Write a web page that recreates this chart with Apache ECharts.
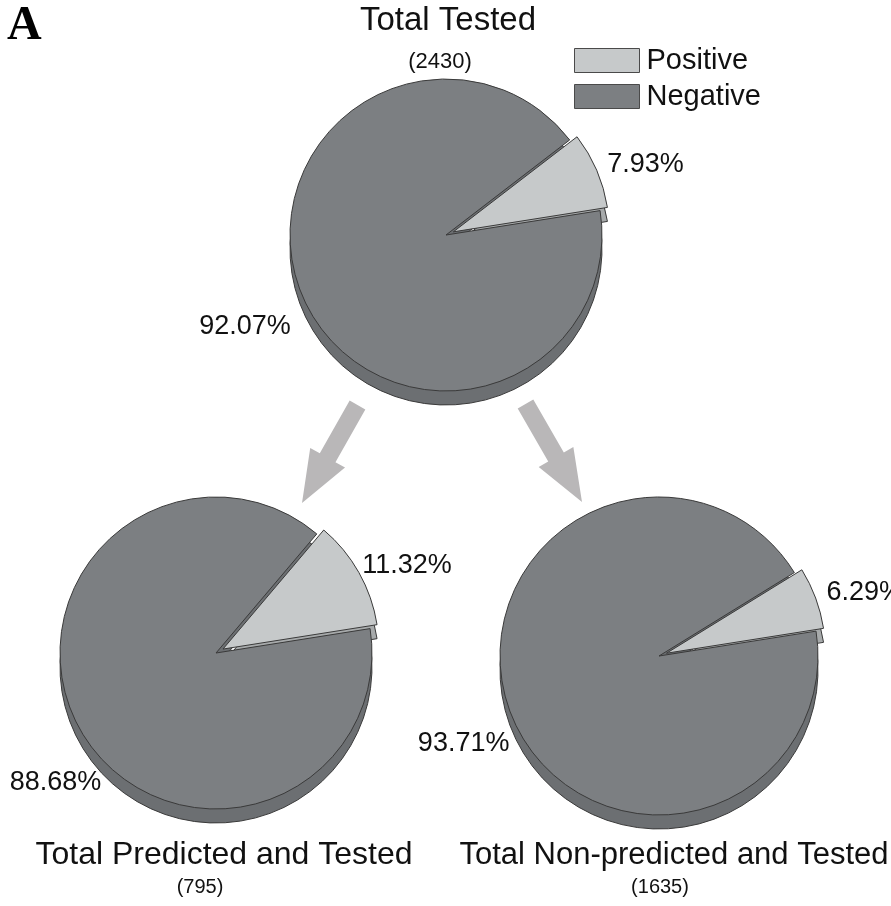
<!DOCTYPE html>
<html>
<head>
<meta charset="utf-8">
<script src="https://cdn.jsdelivr.net/npm/echarts@6/dist/echarts.min.js"></script>
<style>
  html, body { margin: 0; padding: 0; background: #ffffff; }
  #chart { width: 891px; height: 906px; }
</style>
</head>
<body>
<div id="chart"></div>
<script>
// Outcome categories and the share (%) of each in the three groups
const categories = ['Positive', 'Negative'];
const totalTested = [7.93, 92.07];
const predictedTested = [11.32, 88.68];
const nonPredictedTested = [6.29, 93.71];

// Group captions and sample sizes
const groupNames = ['Total Tested', 'Total Predicted and Tested', 'Total Non-predicted and Tested'];
const groupCounts = [2430, 795, 1635];

const FONT = '"Liberation Sans", Arial, sans-serif';
const faceColors = ['#c6c9ca', '#7c7f82'];
const sideColors = ['#a7aaab', '#6c6f72'];
const edgeColor = '#3a3a3a';
const DEPTH = 14;          // thickness of the pie disc
const EXPLODE = 8;         // offset of the pulled-out slice
const SLICE_END = 9;       // angle (deg) where the positive slice ends

// Layout of each pie: centre, radius, caption placement and label polar offsets [deg, px]
const pies = [
  { values: totalTested, center: [446, 235], r: 156,
    caption: [448, 21], captionSize: 33, count: [440, 62], countSize: 22,
    labels: [[21, 223], [204.6, 221]] },
  { values: predictedTested, center: [216, 653], r: 156,
    caption: [224, 855], captionSize: 32, count: [200, 887], countSize: 20,
    labels: [[28.4, 210], [219, 206.5]] },
  { values: nonPredictedTested, center: [659, 656], r: 159,
    caption: [674, 855], captionSize: 31, count: [660, 887], countSize: 20,
    labels: [[21.8, 210], [204.1, 214]] }
];

function pieData(values, colors) {
  return categories.map((name, i) => ({
    name: name,
    value: values[i],
    selected: i === 0,
    itemStyle: { color: colors[i] }
  }));
}

const series = [];
pies.forEach((p) => {
  const startAngle = SLICE_END + p.values[0] * 3.6;
  const common = {
    type: 'pie',
    radius: p.r,
    startAngle: startAngle,
    clockwise: true,
    selectedMode: 'multiple',
    selectedOffset: EXPLODE,
    avoidLabelOverlap: false,
    silent: true,
    animation: false,
    emphasis: { disabled: true },
    labelLine: { show: false }
  };
  // disc side, drawn underneath
  series.push(Object.assign({}, common, {
    name: 'side',
    center: [p.center[0], p.center[1] + DEPTH],
    z: 1,
    itemStyle: { borderColor: edgeColor, borderWidth: 1 },
    label: { show: false },
    data: pieData(p.values, sideColors)
  }));
  // top face with value labels
  series.push(Object.assign({}, common, {
    name: 'face',
    center: p.center,
    z: 2,
    itemStyle: { borderColor: edgeColor, borderWidth: 1 },
    label: {
      show: true,
      position: 'outside',
      formatter: '{c}%',
      fontFamily: FONT,
      fontSize: 27,
      color: '#111111'
    },
    labelLayout: function (params) {
      const lp = p.labels[params.dataIndex];
      const a = lp[0] * Math.PI / 180;
      return {
        x: p.center[0] + lp[1] * Math.cos(a),
        y: p.center[1] - lp[1] * Math.sin(a),
        align: 'center',
        verticalAlign: 'middle'
      };
    },
    data: pieData(p.values, faceColors)
  }));
});

// Broad grey arrows from the overall pie to the two subgroups
function arrowPoints(x0, y0, x1, y1, shaftW, headW, headL) {
  const dx = x1 - x0, dy = y1 - y0, L = Math.hypot(dx, dy);
  const ux = dx / L, uy = dy / L, nx = -uy, ny = ux;
  const bx = x1 - ux * headL, by = y1 - uy * headL;
  return [
    [x0 + nx * shaftW / 2, y0 + ny * shaftW / 2],
    [bx + nx * shaftW / 2, by + ny * shaftW / 2],
    [bx + nx * headW / 2, by + ny * headW / 2],
    [x1, y1],
    [bx - nx * headW / 2, by - ny * headW / 2],
    [bx - nx * shaftW / 2, by - ny * shaftW / 2],
    [x0 - nx * shaftW / 2, y0 - ny * shaftW / 2]
  ];
}

const graphics = [
  { type: 'polygon', shape: { points: arrowPoints(357.5, 405, 302, 503, 18, 40, 52) },
    style: { fill: '#b9b7b8' }, z: 0, silent: true },
  { type: 'polygon', shape: { points: arrowPoints(525.5, 404, 582, 502, 18, 40, 52) },
    style: { fill: '#b9b7b8' }, z: 0, silent: true },
  { type: 'text', x: 7, y: 3, silent: true,
    style: { text: 'A', font: 'bold 48px "Liberation Serif", "Times New Roman", serif', fill: '#000' } }
];
pies.forEach((p, i) => {
  graphics.push({
    type: 'text', x: p.caption[0], y: p.caption[1], silent: true,
    style: { text: groupNames[i], align: 'center', verticalAlign: 'middle',
             font: p.captionSize + 'px ' + FONT, fill: '#111111' }
  });
  graphics.push({
    type: 'text', x: p.count[0], y: p.count[1], silent: true,
    style: { text: '(' + groupCounts[i] + ')', align: 'center', verticalAlign: 'middle',
             font: p.countSize + 'px ' + FONT, fill: '#111111' }
  });
});

const chart = echarts.init(document.getElementById('chart'), null, { renderer: 'canvas' });
chart.setOption({
  backgroundColor: '#ffffff',
  animation: false,
  legend: {
    orient: 'vertical',
    left: 569,
    top: 41,
    itemWidth: 65,
    itemHeight: 24,
    itemGap: 7,
    icon: 'rect',
    selectedMode: false,
    data: categories.map((name, i) => ({
      name: name,
      itemStyle: { color: faceColors[i], borderColor: '#4a4a4a', borderWidth: 1 }
    })),
    textStyle: { fontFamily: FONT, fontSize: 29, color: '#111111', lineHeight: 24, padding: [0, 0, 0, 2] }
  },
  graphic: graphics,
  series: series
});
</script>
</body>
</html>
